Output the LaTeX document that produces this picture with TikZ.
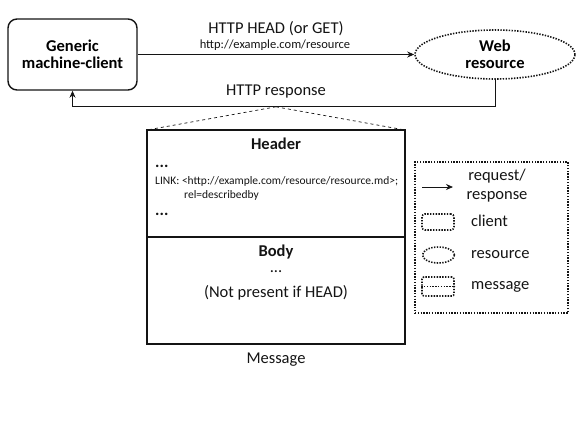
\documentclass[tikz,border=0pt]{standalone}
\usepackage{fontspec}
\setmainfont{Carlito}
\usetikzlibrary{arrows.meta,positioning,calc,shapes.geometric}
\definecolor{ink}{RGB}{20,20,20}
\tikzset{
  dots/.style={line width=1.6pt,dash pattern=on 1.4pt off 1.4pt},
  client/.style={draw=ink,line width=1.4pt,rounded corners=9pt,minimum width=129pt,
    minimum height=71pt,font=\fontsize{16.5}{19}\selectfont\bfseries,align=center},
  webres/.style={ellipse,draw=ink,dots,
    minimum width=160pt,minimum height=49pt,inner sep=0pt,
    font=\fontsize{16.5}{19}\selectfont\bfseries,align=center},
  part/.style={draw=ink,line width=1.7pt,minimum width=258pt,inner sep=0pt,outer sep=0pt},
  arr/.style={-{Stealth[length=7pt,width=6pt]},line width=0.8pt,ink},
  lbl/.style={font=\fontsize{16.5}{19}\selectfont,text=ink,inner sep=0pt},
  small/.style={font=\fontsize{11.5}{13}\selectfont,text=ink,inner sep=0pt},
  icon/.style={draw=ink,dots,minimum width=32pt,inner sep=0pt},
}

\begin{document}
\begin{tikzpicture}[x=1pt,y=-1pt]
  \useasboundingbox (0,0) rectangle (579,437);
  % client and resource
  \node[client] (client) at (72.5,54.5) {Generic\\[-2pt]machine-client};
  \node[webres] (web) at (495,54.5) {Web\\[-2pt]resource};
  \draw[arr] (client.east) -- (web.west);
  \node[lbl] (req) at (276,29) {HTTP HEAD (or GET)};
  \node[small,font=\fontsize{12.5}{14}\selectfont] (url) at (275,45) {http://example.com/resource};
  \draw[arr] (web.south) -- ++(0,27) coordinate (turn) -| (client.south);
  \node[lbl] (resp) at (276,92) {HTTP response};
  % message
  \node[part,minimum height=107pt] (head) at (276,183.5) {};
  \node[part,minimum height=107pt,below=0pt of head] (body) {};
  \coordinate (apex) at (head.north |- turn);
  \draw[ink,dashed,line width=0.7pt] (apex) -- (head.north west);
  \draw[ink,dashed,line width=0.7pt] (apex) -- (head.north east);
  \node[lbl,font=\fontsize{16.5}{19}\selectfont\bfseries] (htitle) at (276,144) {Header};
  \node[lbl,anchor=west] (dots1) at (155,166) {\textbf{...}};
  \node[small,anchor=west] (link) at (155,181) {LINK: <http://example.com/resource/resource.md>;};
  \node[small,anchor=west] (rel) at (184,195) {rel=describedby};
  \node[lbl,anchor=west] (dots2) at (155,214) {\textbf{...}};
  \node[lbl,font=\fontsize{16.5}{19}\selectfont\bfseries] (btitle) at (276,252) {Body};
  \node[lbl] (dots3) at (276,272) {...};
  \node[lbl] (absent) at (276,293) {(Not present if HEAD)};
  \node[lbl] (msg) at (276,360) {Message};
  % legend
  \node[draw=ink,dots,minimum width=153pt,
    minimum height=151pt,inner sep=0pt] (legend) at (491.5,237.5) {};
  \coordinate (a0) at (422,187);
  \coordinate (a1) at (453,187);
  \draw[arr] (a0) -- (a1);
  \node[lbl,align=center] (kreq) at (497,186) {request/\\response};
  \node[icon,rounded corners=3pt,minimum height=16pt] (kcli) at (438,222) {};
  \node[lbl,anchor=west] (tcli) at (471,221) {client};
  \node[icon,ellipse,minimum height=16pt] (kres) at (438.5,255) {};
  \node[lbl,anchor=west] (tres) at (471,255) {resource};
  \node[icon,rounded corners=2pt,minimum height=19pt] (kmsg) at (438,286.5) {};
  \draw[ink,dots] (kmsg.west) -- (kmsg.east);
  \node[lbl,anchor=west] (tmsg) at (471,287) {message};
\end{tikzpicture}
\end{document}
